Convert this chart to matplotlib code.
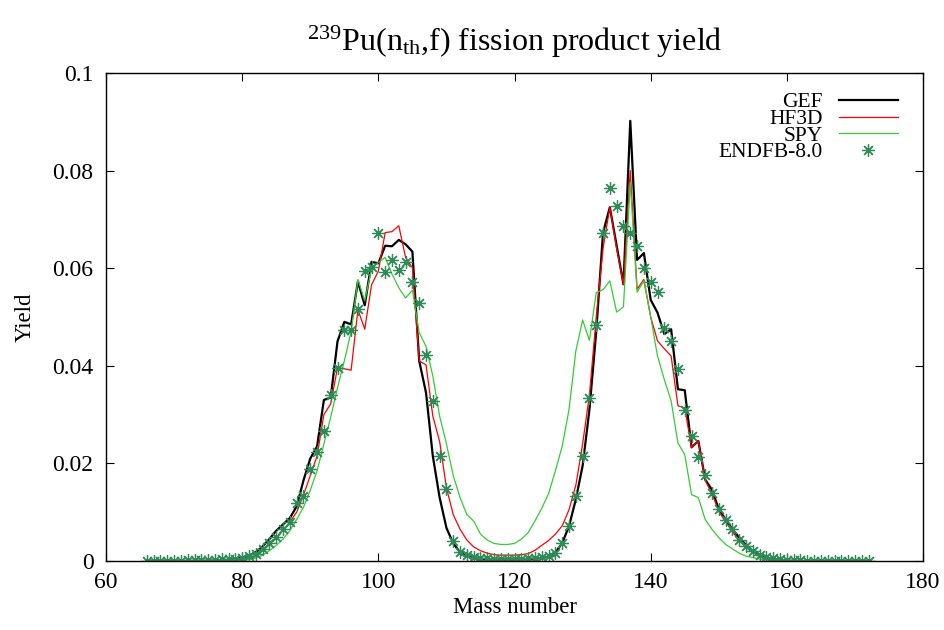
import numpy as np
import matplotlib
matplotlib.use('Agg')
import matplotlib.pyplot as plt

plt.rcParams['font.family'] = ['Liberation Serif', 'DejaVu Serif']
plt.rcParams['mathtext.fontset'] = 'custom'
plt.rcParams['mathtext.rm'] = 'Liberation Serif'
plt.rcParams['mathtext.it'] = 'Liberation Serif:italic'

# mass numbers 66..172
mass = list(range(66, 173))

gef = [
    # 66-75
    0, 0, 0, 0, 0, 0, 0, 0.00001, 0.00002, 0.00004,
    # 76-85
    0.00007, 0.00012, 0.0002, 0.0004, 0.0007, 0.0011, 0.0018, 0.0030, 0.0045, 0.0062,
    # 86-95
    0.0075, 0.0088, 0.0112, 0.0165, 0.0210, 0.0235, 0.0330, 0.0335, 0.0450, 0.0490,
    # 96-105
    0.0485, 0.0573, 0.0524, 0.0613, 0.0610, 0.0646, 0.0645, 0.0658, 0.0649, 0.0634,
    # 106-115
    0.0410, 0.0345, 0.0215, 0.0130, 0.0068, 0.0036, 0.0018, 0.0010, 0.0006, 0.0004,
    # 116-125
    0.0003, 0.0003, 0.0003, 0.0003, 0.0003, 0.0003, 0.0004, 0.0005, 0.0006, 0.0009,
    # 126-135
    0.0017, 0.0037, 0.0071, 0.0126, 0.0195, 0.0310, 0.0470, 0.0673, 0.0725, 0.0646,
    # 136-145
    0.0567, 0.0902, 0.0617, 0.0631, 0.0535, 0.0509, 0.0465, 0.0475, 0.0352, 0.0350,
    # 146-155
    0.0233, 0.0246, 0.0167, 0.0146, 0.0106, 0.0085, 0.0065, 0.0048, 0.0033, 0.0020,
    # 156-165
    0.0012, 0.0007, 0.0004, 0.0002, 0.0001, 0, 0, 0, 0, 0,
    # 166-172
    0, 0, 0, 0, 0, 0, 0]

hf3d = [
    # 66-75
    0, 0, 0, 0, 0, 0, 0, 0, 0, 0,
    # 76-85
    0, 0.00002, 0.00005, 0.0001, 0.0003, 0.0006, 0.0012, 0.0022, 0.0033, 0.0048,
    # 86-95
    0.0063, 0.0080, 0.0100, 0.0135, 0.0175, 0.0215, 0.0300, 0.0322, 0.0396, 0.0394,
    # 96-105
    0.0391, 0.0515, 0.0475, 0.0566, 0.0594, 0.0673, 0.0675, 0.0687, 0.0622, 0.0601,
    # 106-115
    0.0410, 0.0402, 0.0297, 0.0245, 0.0150, 0.0095, 0.0065, 0.0043, 0.0029, 0.0021,
    # 116-125
    0.0016, 0.0013, 0.0012, 0.0012, 0.0012, 0.0013, 0.0015, 0.0022, 0.0032, 0.0042,
    # 126-135
    0.0055, 0.0072, 0.0105, 0.0155, 0.0240, 0.0340, 0.0500, 0.0640, 0.0725, 0.0640,
    # 136-145
    0.0567, 0.0800, 0.0557, 0.0577, 0.0500, 0.0451, 0.0435, 0.0420, 0.0318, 0.0314,
    # 146-155
    0.0232, 0.0246, 0.0165, 0.0138, 0.0102, 0.0080, 0.0060, 0.0042, 0.0028, 0.0017,
    # 156-165
    0.0010, 0.0006, 0.0003, 0.0002, 0.0001, 0, 0, 0, 0, 0,
    # 166-172
    0, 0, 0, 0, 0, 0, 0]

spy = [
    # 66-75
    0, 0, 0, 0, 0, 0, 0, 0, 0, 0,
    # 76-85
    0, 0, 0, 0.00005, 0.0001, 0.0003, 0.0006, 0.0012, 0.0021, 0.0032,
    # 86-95
    0.0045, 0.0062, 0.0085, 0.0110, 0.0145, 0.0185, 0.0240, 0.0295, 0.0355, 0.0410,
    # 96-105
    0.0470, 0.0577, 0.0533, 0.0598, 0.0612, 0.0622, 0.0588, 0.0560, 0.0539, 0.0555,
    # 106-115
    0.0468, 0.0440, 0.0379, 0.0297, 0.0240, 0.0175, 0.0130, 0.0095, 0.0082, 0.0055,
    # 116-125
    0.0043, 0.0036, 0.0034, 0.0034, 0.0036, 0.0045, 0.0058, 0.0082, 0.0108, 0.0138,
    # 126-135
    0.0185, 0.0235, 0.0310, 0.0430, 0.0494, 0.0452, 0.0550, 0.0556, 0.0574, 0.0510,
    # 136-145
    0.0521, 0.0776, 0.0551, 0.0574, 0.0500, 0.0420, 0.0372, 0.0328, 0.0242, 0.0218,
    # 146-155
    0.0136, 0.0130, 0.0085, 0.0065, 0.0048, 0.0034, 0.0025, 0.0016, 0.0010, 0.0007,
    # 156-165
    0.0004, 0.0002, 0.0001, 0, 0, 0, 0, 0, 0, 0,
    # 166-172
    0, 0, 0, 0, 0, 0, 0]

endf = [
    # 66-75
    0.00002, 0.00003, 0.00004, 0.00006, 0.00008, 0.0001, 0.00013, 0.00017, 0.0002, 0.00025,
    # 76-85
    0.0003, 0.00035, 0.0004, 0.0005, 0.0007, 0.0010, 0.0015, 0.0025, 0.0037, 0.0050,
    # 86-95
    0.0066, 0.0080, 0.0119, 0.0134, 0.0189, 0.0223, 0.0266, 0.0341, 0.0396, 0.0474,
    # 96-105
    0.0474, 0.0517, 0.0594, 0.0603, 0.0672, 0.0593, 0.0617, 0.0597, 0.0613, 0.0571,
    # 106-115
    0.0528, 0.0423, 0.0328, 0.0216, 0.0147, 0.0040, 0.0018, 0.0012, 0.0009, 0.0007,
    # 116-125
    0.0006, 0.0005, 0.0005, 0.0005, 0.0005, 0.0005, 0.0006, 0.0007, 0.0008, 0.0010,
    # 126-135
    0.0016, 0.0037, 0.0071, 0.0134, 0.0216, 0.0335, 0.0483, 0.0673, 0.0764, 0.0727,
    # 136-145
    0.0686, 0.0673, 0.0646, 0.0601, 0.0572, 0.0551, 0.0478, 0.0451, 0.0393, 0.0309,
    # 146-155
    0.0256, 0.0214, 0.0177, 0.0140, 0.0107, 0.0085, 0.0065, 0.0044, 0.0030, 0.0020,
    # 156-165
    0.0012, 0.0008, 0.0006, 0.0004, 0.0003, 0.0002, 0.00015, 0.0001, 0.00008, 0.00006,
    # 166-172
    0.00004, 0.00003, 0.00002, 0.00002, 0.00001, 0.00001, 0.00001]

xticks = [60, 80, 100, 120, 140, 160, 180]
yticks = [0, 0.02, 0.04, 0.06, 0.08, 0.1]
ytick_labels = ['0', '0.02', '0.04', '0.06', '0.08', '0.1']

fig = plt.figure(figsize=(9.44, 6.30), dpi=100)
ax = fig.add_axes([0.1123, 0.1095, 0.8655, 0.7746])

ax.plot(mass, gef, color='black', lw=1.6, label='GEF')
ax.plot(mass, hf3d, color='#ff0000', lw=0.9, label='HF3D')
ax.plot(mass, spy, color='#32cd32', lw=0.9, label='SPY')
ax.plot(mass, endf, ls='none', marker=(8, 2, 0), ms=9, mew=0.9,
        color='#2e8b57', label='ENDFB-8.0')

ax.set_xlim(60, 180)
ax.set_ylim(0, 0.1)
ax.set_xticks(xticks)
ax.set_yticks(yticks)
ax.set_yticklabels(ytick_labels)
ax.tick_params(direction='in', length=6, width=0.8, top=True, right=True,
               labelsize=17, pad=8)
ax.tick_params(axis='y', pad=9)
for s in ax.spines.values():
    s.set_linewidth(1.0)

ax.set_xlabel('Mass number', fontsize=16.5, labelpad=3)
ax.set_ylabel('Yield', fontsize=16.5, labelpad=12)
ax.set_title(r'$^{239}$Pu(n$_{\mathrm{th}}$,f) fission product yield',
             fontsize=23, pad=16)

leg = ax.legend(loc='upper right', frameon=False, markerfirst=False,
                alignment='right', fontsize=15.5, handlelength=2.75,
                handletextpad=0.75, labelspacing=-0.16,
                bbox_to_anchor=(0.993, 1.0))

fig.savefig('out.png', dpi=100)
